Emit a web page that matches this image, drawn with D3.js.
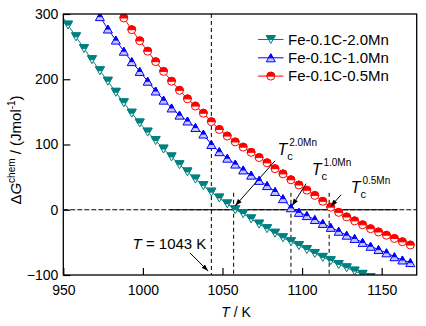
<!DOCTYPE html>
<html>
<head>
<meta charset="utf-8">
<script src="https://cdn.jsdelivr.net/npm/d3@7/dist/d3.min.js"></script>
<style>
  html, body { margin: 0; padding: 0; background: #fff; }
  svg { display: block; }
  text { font-family: Arial, "Liberation Sans", sans-serif; fill: #000; }
</style>
</head>
<body>
<svg id="chart" width="426" height="326"></svg>
<script>
// Chemical driving force ΔG^chem of three Fe-0.1C-xMn alloys versus temperature
const seriesNames = ["Fe-0.1C-2.0Mn", "Fe-0.1C-1.0Mn", "Fe-0.1C-0.5Mn"];
const seriesColors = ["#008080", "#0000ff", "#ff0000"];

const tempMn20 = [948, 953, 958, 963, 968, 973, 978, 983, 988, 993, 998, 1003, 1008, 1013, 1018, 1023, 1028, 1033, 1038, 1043, 1048, 1053, 1058, 1063, 1068, 1073, 1078, 1083, 1088, 1093, 1098, 1103, 1108, 1113, 1118, 1123, 1128, 1133, 1138, 1143];
const dgMn20   = [301, 283, 265, 247, 230, 213, 197, 180, 164, 148, 133, 119, 106, 93, 81, 69, 58, 47, 37, 27, 18, 9, 0, -6, -14, -22, -29, -36, -43, -49, -55, -61, -67, -73, -78, -84, -89, -94, -99, -104];

const tempMn10 = [973, 978, 983, 988, 993, 998, 1003, 1008, 1013, 1018, 1023, 1028, 1033, 1038, 1043, 1048, 1053, 1058, 1063, 1068, 1073, 1078, 1083, 1088, 1093, 1098, 1103, 1108, 1113, 1118, 1123, 1128, 1133, 1138, 1143, 1148, 1153, 1158, 1163, 1168];
const dgMn10   = [296, 277, 260, 243, 227, 212, 197, 182, 168, 156, 145, 136, 126, 116, 100, 89, 79, 70, 61, 53, 45, 37, 28, 17, 3, -4, -9, -15, -21, -27, -33, -39, -44, -50, -56, -61, -66, -72, -77, -81];

const tempMn05 = [988, 993, 998, 1003, 1008, 1013, 1018, 1023, 1028, 1033, 1038, 1043, 1048, 1053, 1058, 1063, 1068, 1073, 1078, 1083, 1088, 1093, 1098, 1103, 1108, 1113, 1118, 1123, 1128, 1133, 1138, 1143, 1148, 1153, 1158, 1163, 1168];
const dgMn05   = [294, 276, 259, 243, 227, 212, 197, 183, 170, 159, 148, 135, 123, 113, 104, 96, 88, 80, 72, 63, 55, 46, 38, 30, 22, 13, 4, -4, -11, -17, -23, -29, -34, -39, -44, -49, -54];

const xTicks = [950, 1000, 1050, 1100, 1150];
const yTicks = [-100, 0, 100, 200, 300];

const curieTemp = 1043;                  // Curie temperature of pure iron
const tcTemps = [1057, 1093, 1117];      // zero crossings of each alloy
const tcSuffix = ["2.0Mn", "1.0Mn", "0.5Mn"];

const series = [
  { name: seriesNames[0], color: seriesColors[0], shape: "down", fillLow: "#ffffff", pts: tempMn20.map((t, i) => [t, dgMn20[i]]) },
  { name: seriesNames[1], color: seriesColors[1], shape: "up",   fillLow: "#c4c4ff", pts: tempMn10.map((t, i) => [t, dgMn10[i]]) },
  { name: seriesNames[2], color: seriesColors[2], shape: "circle", fillLow: "#ffffff", pts: tempMn05.map((t, i) => [t, dgMn05[i]]) }
];

const svg = d3.select("#chart");
const plot = { left: 63.3, right: 416.7, top: 14, bottom: 275 };

const x = d3.scaleLinear().domain([950, 1172]).range([plot.left, plot.right]);
const y = d3.scaleLinear().domain([-100, 300]).range([plot.bottom, plot.top]);

svg.append("rect").attr("width", 426).attr("height", 326).attr("fill", "#fff");

const defs = svg.append("defs");
defs.append("clipPath").attr("id", "plotClip")
  .append("rect")
  .attr("x", plot.left).attr("y", plot.top)
  .attr("width", plot.right - plot.left).attr("height", plot.bottom - plot.top);

defs.append("marker").attr("id", "arrowHead")
  .attr("viewBox", "0 0 10 10").attr("refX", 10).attr("refY", 5)
  .attr("markerWidth", 7).attr("markerHeight", 7)
  .attr("markerUnits", "userSpaceOnUse")
  .attr("orient", "auto")
  .append("path").attr("d", "M0,1.5 L10,5 L0,8.5 Z").attr("fill", "#000");

// Reference lines
const refs = svg.append("g").attr("clip-path", "url(#plotClip)");
refs.append("line")
  .attr("x1", x(950)).attr("x2", x(1172)).attr("y1", y(0)).attr("y2", y(0))
  .attr("stroke", "#000").attr("stroke-width", 1).attr("stroke-dasharray", "5,2");
refs.append("line")
  .attr("x1", x(1017)).attr("x2", x(1160)).attr("y1", y(0)).attr("y2", y(0))
  .attr("stroke", "#000").attr("stroke-width", 1);
refs.append("line")
  .attr("x1", x(curieTemp)).attr("x2", x(curieTemp)).attr("y1", y(300)).attr("y2", y(-100))
  .attr("stroke", "#000").attr("stroke-width", 1).attr("stroke-dasharray", "4,3");
refs.selectAll(".tc").data(tcTemps).join("line")
  .attr("x1", d => x(d)).attr("x2", d => x(d)).attr("y1", y(26)).attr("y2", y(-100))
  .attr("stroke", "#000").attr("stroke-width", 1).attr("stroke-dasharray", "4,3");

// Marker shapes: upper half solid, lower half light
function markerPaths(shape) {
  if (shape === "down") return { full: "M-4.5,-4L4.5,-4L0,4Z", top: "M-4.5,-4L4.5,-4L2.25,0L-2.25,0Z" };
  if (shape === "up") return { full: "M0,-4L4.5,4L-4.5,4Z", top: "M0,-4L2.25,0L-2.25,0Z" };
  return { full: "M-4,0A4,4 0 1,1 4,0A4,4 0 1,1 -4,0Z", top: "M-4,0A4,4 0 0,1 4,0Z" };
}

function drawMarker(g, s) {
  const p = markerPaths(s.shape);
  g.append("path").attr("d", p.full).attr("fill", s.fillLow).attr("stroke", s.color).attr("stroke-width", 1);
  g.append("path").attr("d", p.top).attr("fill", s.color).attr("stroke", s.color).attr("stroke-width", 0.8);
  g.append("line").attr("x1", -4).attr("x2", 4).attr("y1", 0).attr("y2", 0)
    .attr("stroke", s.color).attr("stroke-width", 0.6)
    .attr("transform", s.shape === "circle" ? null : "scale(0.55,1)");
}

const line = d3.line().x(d => x(d[0])).y(d => y(d[1]));
const dataG = svg.append("g").attr("clip-path", "url(#plotClip)");
series.forEach(s => {
  dataG.append("path").datum(s.pts).attr("d", line)
    .attr("fill", "none").attr("stroke", s.color).attr("stroke-width", 1);
  dataG.append("g").selectAll("g").data(s.pts).join("g")
    .attr("transform", d => `translate(${x(d[0])},${y(d[1])})`)
    .each(function () { drawMarker(d3.select(this), s); });
});

// Axes: ticks inward on left and bottom, full frame
const xAxis = svg.append("g").attr("transform", `translate(0,${plot.bottom})`)
  .call(d3.axisBottom(x).tickValues(xTicks).tickFormat(d3.format("d"))
    .tickSizeInner(-7).tickSizeOuter(0).tickPadding(10));
const yAxis = svg.append("g").attr("transform", `translate(${plot.left},0)`)
  .call(d3.axisLeft(y).tickValues(yTicks).tickFormat(d3.format("d"))
    .tickSizeInner(-7).tickSizeOuter(0).tickPadding(5));
[xAxis, yAxis].forEach(a => {
  a.select(".domain").remove();
  a.selectAll(".tick line").attr("stroke", "#000").attr("stroke-width", 1.2);
  a.selectAll(".tick text").attr("font-size", 14).attr("fill", "#000")
    .style("font-family", 'Arial, "Liberation Sans", sans-serif');
});
yAxis.selectAll(".tick text").attr("x", -5);

svg.append("rect")
  .attr("x", plot.left).attr("y", plot.top)
  .attr("width", plot.right - plot.left).attr("height", plot.bottom - plot.top)
  .attr("fill", "none").attr("stroke", "#000").attr("stroke-width", 1.3);

// Axis titles
const xt = svg.append("text").attr("x", 236).attr("y", 317).attr("text-anchor", "middle").attr("font-size", 14);
xt.append("tspan").attr("font-style", "italic").text("T");
xt.append("tspan").text(" / K");

const yt = svg.append("text").attr("transform", "translate(21,150) rotate(-90)")
  .attr("text-anchor", "middle").attr("font-size", 15);
yt.append("tspan").text("Δ");
yt.append("tspan").attr("font-style", "italic").text("G");
yt.append("tspan").attr("font-size", 10).attr("dy", -6.5).text("chem");
yt.append("tspan").attr("dy", 6.5).text(" / (Jmol");
yt.append("tspan").attr("font-size", 10).attr("dy", -6).text("-1");
yt.append("tspan").attr("dy", 6).text(")");

// Legend
const legend = svg.append("g");
series.forEach((s, i) => {
  const ly = 39.5 + i * 18.3;
  legend.append("line").attr("x1", 258).attr("x2", 283.5).attr("y1", ly).attr("y2", ly)
    .attr("stroke", s.color).attr("stroke-width", 1);
  const m = legend.append("g").attr("transform", `translate(270.8,${ly})`);
  drawMarker(m, s);
  legend.append("text").attr("x", 288).attr("y", ly + 5.3).attr("font-size", 15).text(s.name);
});

// Annotations
function arrow(t0, v0, t1, v1) {
  svg.append("line")
    .attr("x1", x(t0)).attr("y1", y(v0)).attr("x2", x(t1)).attr("y2", y(v1))
    .attr("stroke", "#000").attr("stroke-width", 1)
    .attr("marker-end", "url(#arrowHead)");
}

const curieLabel = svg.append("text").attr("x", x(993.5)).attr("y", y(-60)).attr("font-size", 15);
curieLabel.append("tspan").attr("font-style", "italic").text("T");
curieLabel.append("tspan").text(` = ${curieTemp} K`);
arrow(1029.5, -66, 1041, -94);

const tcLabelPos = [[1084.5, 84], [1106, 54], [1130.5, 25]];
const tcArrow = [[1083, 75, 1058, 6], [1102.5, 40, 1093.7, 6], [1124.5, 23, 1118, 5]];
tcTemps.forEach((t, i) => {
  const lab = svg.append("text").attr("x", x(tcLabelPos[i][0])).attr("y", y(tcLabelPos[i][1])).attr("font-size", 16);
  lab.append("tspan").attr("font-style", "italic").text("T");
  lab.append("tspan").attr("font-size", 11).attr("dy", 5).text("c");
  lab.append("tspan").attr("font-size", 10).attr("dx", -3.5).attr("dy", -14).text(tcSuffix[i]);
  arrow(...tcArrow[i]);
});
</script>
</body>
</html>
